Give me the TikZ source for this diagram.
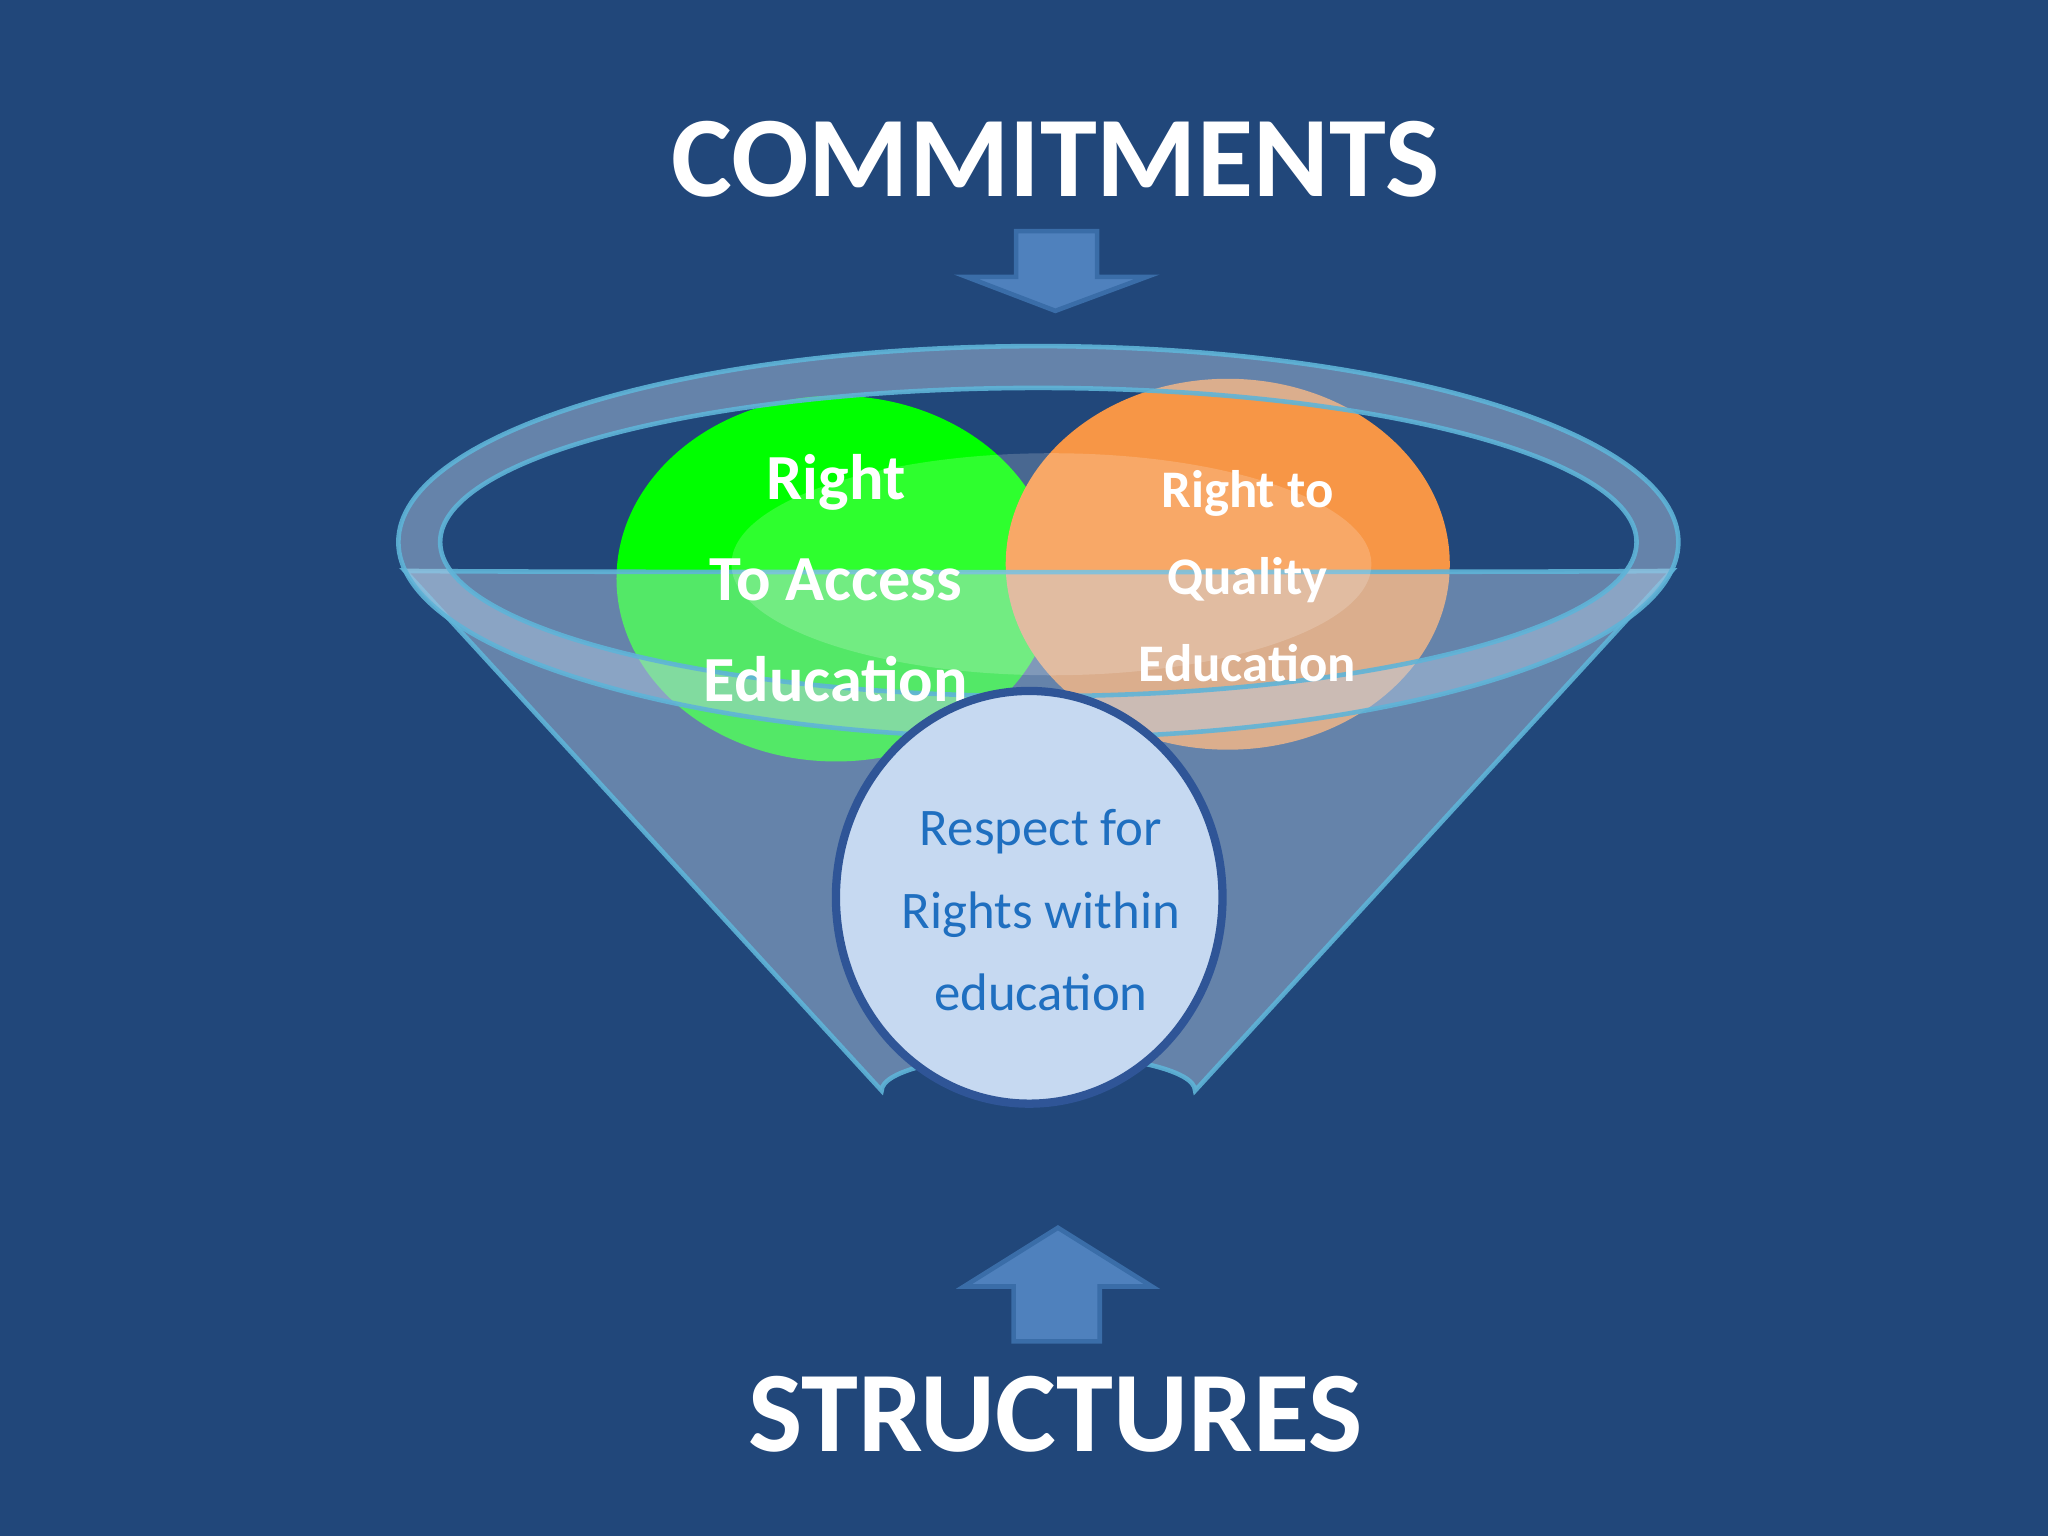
\documentclass[tikz,border=0pt]{standalone}
\usepackage{fontspec}
\setmainfont{Carlito}
\definecolor{bg}{HTML}{21477A}
\definecolor{arr}{HTML}{4F81BD}
\definecolor{arrd}{HTML}{3A6DA8}
\definecolor{fun}{HTML}{B9CDE5}
\definecolor{funl}{HTML}{5FB4D8}
\definecolor{grn}{HTML}{00FF00}
\definecolor{org}{HTML}{F79646}
\definecolor{lblue}{HTML}{C6D9F1}
\definecolor{bord}{HTML}{2F5597}
\definecolor{btxt}{HTML}{1F6FC0}
\begin{document}
\begin{tikzpicture}[x=0.01cm,y=-0.01cm,
  title/.style={text=white,font=\bfseries\fontsize{25}{30}\selectfont},
  arrowshape/.style={fill=arr,draw=arrd,line width=1pt},
  funnelpart/.style={fill=fun,fill opacity=0.45,draw=funl,line width=1pt,draw opacity=0.9},
  gtext/.style={text=white,font=\bfseries\fontsize{14}{18}\selectfont,align=center},
  otext/.style={text=white,font=\bfseries\fontsize{11.5}{15}\selectfont,align=center},
  btext/.style={text=btxt,font=\fontsize{11.5}{15}\selectfont,align=center}]
\fill[bg] (0,0) rectangle (1568,1176);
\useasboundingbox (0,0) rectangle (1568,1176);
\node[title] (commit) at (808,122) {COMMITMENTS};
\node[title] (struct) at (808,1083) {STRUCTURES};
% arrows
\draw[arrowshape] (778,177) -- (840,177) -- (840,212) -- (878,212) -- (808,238) -- (740,212) -- (778,212) -- cycle;
\draw[arrowshape] (776,1027) -- (842,1027) -- (842,985) -- (882,985) -- (810,940) -- (738,985) -- (776,985) -- cycle;
% circles
\fill[grn] (640,443) ellipse [x radius=168,y radius=140];
\fill[org] (940,432) ellipse [x radius=170,y radius=142];
% funnel
\draw[funnelpart] (310,437) -- (675,835) arc[start angle=180,end angle=360,x radius=120,y radius=28] -- (1280,437)
  arc[start angle=0,end angle=180,x radius=485,y radius=1] -- cycle;
\draw[funnelpart,even odd rule] (795,415) ellipse [x radius=490,y radius=150] (795,415) ellipse [x radius=458,y radius=118];
\fill[white,opacity=0.18] (805,432) ellipse [x radius=245,y radius=85];
% texts
\node[gtext] (g) at (640,443) {Right\\[4pt]To Access\\[4pt]Education};
\node[otext] (o) at (955,441) {Right to\\[4pt]Quality\\[4pt]Education};
\draw[fill=lblue,draw=bord,line width=1.8pt] (788,687) ellipse [x radius=148,y radius=158];
\node[btext] (b) at (797,697) {Respect for\\[3pt]Rights within\\[3pt]education};
\end{tikzpicture}
\end{document}
